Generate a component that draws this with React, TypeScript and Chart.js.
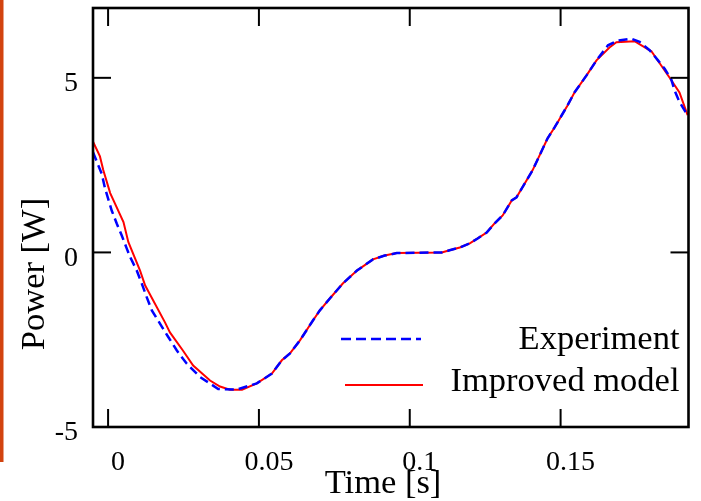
import React, { useEffect, useRef } from "react";
import { Chart, registerables } from "chart.js";

Chart.register(...registerables);

const xTickValues = [0, 0.05, 0.1, 0.15];
const xTickLabels = ["0", "0.05", "0.1", "0.15"];
const yTickValues = [-5, 0, 5];
const yTickLabels = ["-5", "0", "5"];
const legendLabels = ["Experiment", "Improved model"];
const xTitle = "Time [s]";
const yTitle = "Power [W]";

const experimentTime = [
  -0.005, -0.0021, -0.001, 0.0012, 0.0029, 0.0045, 0.0062, 0.0073, 0.0095, 0.0112,
  0.0128, 0.0145, 0.0172, 0.02, 0.0228, 0.0261, 0.0305, 0.0365, 0.0426, 0.0493,
  0.0543, 0.0576, 0.0603, 0.0636, 0.0679, 0.0702, 0.0735, 0.0778, 0.0825, 0.0878,
  0.0917, 0.0957, 0.1106, 0.1132, 0.1166, 0.1199, 0.1225, 0.1255, 0.1281, 0.1308,
  0.1338, 0.1354, 0.1407, 0.1457, 0.148, 0.1523, 0.1546, 0.1586, 0.1619, 0.1657,
  0.169, 0.1734, 0.1762, 0.1795, 0.1823, 0.1845, 0.1867, 0.1878, 0.1894, 0.1911, 0.1919,
];
const experimentPower = [
  2.87, 2.25, 1.83, 1.2, 0.82, 0.49, 0.11, -0.13, -0.52, -0.9,
  -1.28, -1.66, -2.04, -2.43, -2.81, -3.19, -3.57, -3.91, -3.93, -3.75,
  -3.47, -3.09, -2.89, -2.52, -1.95, -1.66, -1.32, -0.89, -0.52, -0.2,
  -0.09, -0.02, 0, 0.06, 0.14, 0.26, 0.4, 0.57, 0.83, 1.06,
  1.49, 1.58, 2.35, 3.27, 3.58, 4.21, 4.58, 5.07, 5.5, 5.93,
  6.07, 6.12, 6.03, 5.79, 5.5, 5.26, 4.95, 4.64, 4.31, 4.07, 3.93,
];

const modelTime = [
  -0.0051, -0.0027, -0.0016, 0.0007, 0.0051, 0.0067, 0.0106, 0.0123, 0.0189, 0.0205,
  0.0248, 0.0282, 0.0338, 0.0371, 0.0404, 0.0444, 0.0493, 0.0543, 0.0576, 0.0603,
  0.0636, 0.0679, 0.0702, 0.0735, 0.0778, 0.0825, 0.0878, 0.0917, 0.0957, 0.1106,
  0.1132, 0.1166, 0.1199, 0.1225, 0.1255, 0.1281, 0.1308, 0.1338, 0.1354, 0.1407,
  0.1457, 0.148, 0.1523, 0.1546, 0.1586, 0.1619, 0.1662, 0.1685, 0.1745, 0.1801,
  0.1861, 0.1894, 0.1921,
];
const modelPower = [
  3.19, 2.75, 2.36, 1.7, 0.87, 0.3, -0.52, -0.95, -2.01, -2.29,
  -2.81, -3.24, -3.67, -3.84, -3.93, -3.93, -3.75, -3.47, -3.09, -2.89,
  -2.52, -1.95, -1.66, -1.32, -0.89, -0.52, -0.2, -0.09, -0.02, 0,
  0.06, 0.14, 0.26, 0.4, 0.57, 0.83, 1.06, 1.49, 1.58, 2.35,
  3.27, 3.58, 4.21, 4.58, 5.07, 5.5, 5.87, 6.02, 6.05, 5.76,
  5.01, 4.58, 3.93,
];

const FONT = "'Liberation Serif', 'Times New Roman', serif";
const BLUE = "#0000ff";
const RED = "#ff0000";

export default function App() {
  const ref = useRef<HTMLCanvasElement>(null);

  useEffect(() => {
    const canvas = ref.current;
    if (!canvas) return;
    const toPoints = (t: number[], p: number[]) => t.map((v, i) => ({ x: v, y: p[i] }));

    const decor = {
      id: "decor",
      beforeDraw(chart: any) {
        const ctx = chart.ctx;
        ctx.save();
        ctx.fillStyle = "#ffffff";
        ctx.fillRect(0, 0, chart.width, chart.height);
        ctx.fillStyle = "#d2430f";
        ctx.fillRect(0, 0, 3.5, 462);
        ctx.restore();
      },
      afterDraw(chart: any) {
        const { ctx, chartArea: a, scales } = chart;
        const xs = scales.x;
        const ys = scales.y;
        ctx.save();
        ctx.strokeStyle = "#000";
        ctx.lineWidth = 2.6;
        ctx.strokeRect(a.left, a.top, a.right - a.left, a.bottom - a.top);
        ctx.lineWidth = 2;
        const line = (x1: number, y1: number, x2: number, y2: number) => {
          ctx.beginPath();
          ctx.moveTo(x1, y1);
          ctx.lineTo(x2, y2);
          ctx.stroke();
        };
        const TL = 18;
        xTickValues.forEach((v) => {
          const px = xs.getPixelForValue(v);
          line(px, a.bottom, px, a.bottom - TL);
          line(px, a.top, px, a.top + TL);
        });
        yTickValues.forEach((v) => {
          const py = ys.getPixelForValue(v);
          line(a.left, py, a.left + TL, py);
          line(a.right, py, a.right - TL, py);
        });

        // legend
        ctx.font = `34.5px ${FONT}`;
        ctx.fillStyle = "#000";
        ctx.textAlign = "right";
        ctx.textBaseline = "alphabetic";
        const tx = a.right - 9;
        ctx.fillText(legendLabels[0], tx, 349);
        ctx.fillText(legendLabels[1], tx, 391);
        ctx.strokeStyle = BLUE;
        ctx.lineWidth = 2.5;
        ctx.setLineDash([10, 5]);
        line(341, 339, 421, 339);
        ctx.setLineDash([]);
        ctx.strokeStyle = RED;
        ctx.lineWidth = 2.2;
        line(345, 385, 423, 385);

        // axis titles
        ctx.fillStyle = "#000";
        ctx.textAlign = "center";
        ctx.fillText(xTitle, 383, 493);
        ctx.save();
        ctx.translate(44, 274);
        ctx.rotate(-Math.PI / 2);
        ctx.fillText(yTitle, 0, 0);
        ctx.restore();
        ctx.restore();
      },
    };

    const chart = new Chart(canvas, {
      type: "line",
      data: {
        datasets: [
          {
            label: legendLabels[0],
            data: toPoints(experimentTime, experimentPower),
            borderColor: BLUE,
            borderWidth: 2.5,
            borderDash: [9, 5],
            pointRadius: 0,
            fill: false,
            tension: 0,
          },
          {
            label: legendLabels[1],
            data: toPoints(modelTime, modelPower),
            borderColor: RED,
            borderWidth: 2,
            pointRadius: 0,
            fill: false,
            tension: 0,
          },
        ],
      },
      options: {
        responsive: false,
        animation: false,
        events: [],
        layout: { padding: { left: 0, top: 8, right: 12.5, bottom: 0 } },
        plugins: {
          legend: { display: false },
          tooltip: { enabled: false },
          title: { display: false },
        },
        scales: {
          x: {
            type: "linear",
            min: -0.005,
            max: 0.1924,
            afterBuildTicks: (s: any) => {
              s.ticks = xTickValues.map((v) => ({ value: v }));
            },
            afterFit: (s: any) => {
              s.height = 74;
              s.paddingLeft = 0;
              s.paddingRight = 0;
            },
            grid: { display: false, drawTicks: false },
            border: { display: false },
            ticks: {
              font: { family: FONT, size: 28 },
              color: "#000",
              padding: 19,
              labelOffset: 10,
              maxRotation: 0,
              autoSkip: false,
              callback: (_v: any, i: number) => xTickLabels[i],
            },
          },
          y: {
            type: "linear",
            min: -5,
            max: 7,
            afterBuildTicks: (s: any) => {
              s.ticks = yTickValues.map((v) => ({ value: v }));
            },
            afterFit: (s: any) => {
              s.width = 93;
              s.paddingTop = 0;
              s.paddingBottom = 0;
            },
            grid: { display: false, drawTicks: false },
            border: { display: false },
            ticks: {
              font: { family: FONT, size: 28 },
              color: "#000",
              padding: 15,
              labelOffset: 6,
              autoSkip: false,
              callback: (_v: any, i: number) => yTickLabels[i],
            },
          },
        },
      },
      plugins: [decor],
    } as any);

    return () => chart.destroy();
  }, []);

  return (
    <div style={{ position: "fixed", left: 0, top: 0, width: 701, height: 501, background: "#fff" }}>
      <canvas ref={ref} width={701} height={501} style={{ display: "block" }} />
    </div>
  );
}
